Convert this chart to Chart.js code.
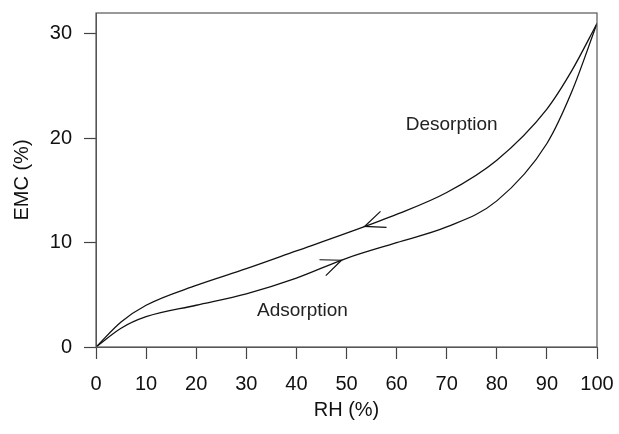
<!DOCTYPE html>
<html><head><script src="https://cdn.jsdelivr.net/npm/chart.js@4"></script>
<style>body{margin:0;background:#fff}#w{width:619px;height:434px}</style></head>
<body><div id="w"><canvas id="c"></canvas></div>
<script>
const desX=[0,5,10,20,30,40,50,60,70,80,90,95,100];
const desY=[0,2.4,4.0,5.9,7.5,9.2,10.9,12.7,14.8,17.9,22.8,26.5,31];
const adsX=[0,5,10,20,30,40,50,60,70,80,90,95,100];
const adsY=[0,1.8,2.9,4.0,5.1,6.6,8.5,10.0,11.5,14.0,19.5,24.5,31];
const xTicks=[0,10,20,30,40,50,60,70,80,90,100];
const yTicks=[0,10,20,30];
const labels=[{t:'Desorption',x:71,y:21.3},{t:'Adsorption',x:41.2,y:3.5}];
const arrows=[{x:53.6,dir:-1,s:0},{x:49,dir:1,s:1}];
const mk=(xs,ys)=>xs.map((x,i)=>({x,y:ys[i]}));
function interp(xs,ys,v){for(let i=1;i<xs.length;i++)if(v<=xs[i]){const t=(v-xs[i-1])/(xs[i]-xs[i-1]);return ys[i-1]+t*(ys[i]-ys[i-1]);}return ys[ys.length-1];}
const F='"Liberation Sans", Arial';
const deco={id:'deco',afterDatasetsDraw(ch){
 const {ctx,scales:{x,y},chartArea:a}=ch;
 ctx.save();ctx.strokeStyle='#555';ctx.lineWidth=1.2;
 ctx.strokeRect(a.left,a.top,a.right-a.left,a.bottom-a.top);
 ctx.strokeStyle='#111';
 ctx.font='19px '+F;ctx.fillStyle='#222';ctx.textAlign='center';ctx.textBaseline='middle';
 labels.forEach(l=>ctx.fillText(l.t,x.getPixelForValue(l.x),y.getPixelForValue(l.y)));
 arrows.forEach(r=>{
  const xs=r.s?adsX:desX, ys=r.s?adsY:desY;
  const px=x.getPixelForValue(r.x),py=y.getPixelForValue(interp(xs,ys,r.x));
  const bx=r.x-3*r.dir;
  const qx=x.getPixelForValue(bx),qy=y.getPixelForValue(interp(xs,ys,bx));
  const ang=Math.atan2(py-qy,px-qx);const L=22,sp=0.4;
  ctx.beginPath();
  ctx.moveTo(px-L*Math.cos(ang-sp),py-L*Math.sin(ang-sp));ctx.lineTo(px,py);
  ctx.lineTo(px-L*Math.cos(ang+sp),py-L*Math.sin(ang+sp));ctx.stroke();
 });
 ctx.restore();}};
new Chart(document.getElementById('c'),{type:'scatter',
 data:{datasets:[
  {data:mk(desX,desY),showLine:true,borderColor:'#111',borderWidth:1.3,pointRadius:0,cubicInterpolationMode:'monotone'},
  {data:mk(adsX,adsY),showLine:true,borderColor:'#111',borderWidth:1.3,pointRadius:0,cubicInterpolationMode:'monotone'}]},
 options:{responsive:true,maintainAspectRatio:false,animation:false,
  layout:{padding:{top:13,right:22,bottom:8,left:6}},
  plugins:{legend:{display:false},tooltip:{enabled:false}},
  scales:{
   x:{type:'linear',min:0,max:100,afterBuildTicks:s=>{s.ticks=xTicks.map(v=>({value:v}))},
    afterFit:s=>{s.height=79;s.paddingLeft=0;s.paddingRight=0;},
    grid:{display:true,drawOnChartArea:false,drawTicks:true,tickLength:12,tickColor:'#444',tickWidth:1.2},border:{color:'#555'},
    ticks:{color:'#111',font:{size:20,family:F},maxRotation:0,padding:13},
    title:{display:true,text:'RH (%)',color:'#111',font:{size:20,family:F}}},
   y:{type:'linear',min:0,max:32,afterBuildTicks:s=>{s.ticks=yTicks.map(v=>({value:v}))},
    afterFit:s=>{s.width=90;s.paddingTop=0;s.paddingBottom=0;},
    grid:{display:true,drawOnChartArea:false,drawTicks:true,tickLength:12,tickColor:'#444',tickWidth:1.2},border:{color:'#555'},
    ticks:{color:'#111',font:{size:20,family:F},padding:12},
    title:{display:true,text:'EMC (%)',color:'#111',font:{size:20,family:F}}}}},
 plugins:[deco]});
</script></body></html>
